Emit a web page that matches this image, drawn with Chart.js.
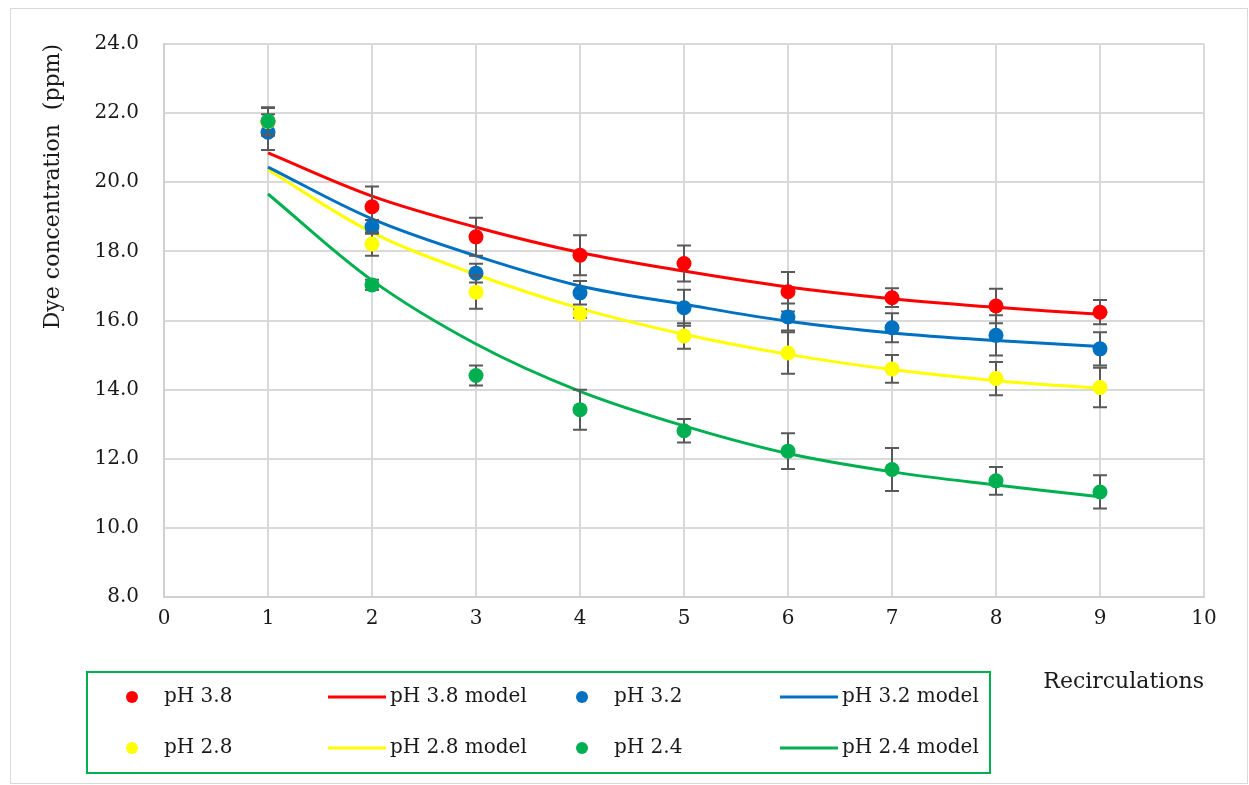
<!DOCTYPE html>
<html>
<head>
<meta charset="utf-8">
<script src="https://cdn.jsdelivr.net/npm/chart.js@4"></script>
<style>
  body { margin: 0; background: #fff; }
  canvas { display: block; }
</style>
</head>
<body>
<canvas id="myChart" width="1249" height="785"></canvas>
<script>
// recirculation number for every measurement
const recirculations = [1, 2, 3, 4, 5, 6, 7, 8, 9];

const ph38 = [21.75, 19.29, 18.42, 17.89, 17.65, 16.83, 16.66, 16.42, 16.24];
const ph38Err = [0.40, 0.59, 0.55, 0.58, 0.52, 0.57, 0.27, 0.50, 0.35];
const ph38Model = [20.85, 19.60, 18.70, 17.97, 17.43, 16.97, 16.63, 16.38, 16.18];

const ph32 = [21.45, 18.71, 17.37, 16.80, 16.37, 16.10, 15.79, 15.57, 15.18];
const ph32Err = [0.52, 0.20, 0.27, 0.34, 0.52, 0.39, 0.42, 0.58, 0.48];
const ph32Model = [20.44, 18.94, 17.87, 17.00, 16.47, 15.98, 15.64, 15.42, 15.25];

const ph28 = [21.75, 18.21, 16.82, 16.20, 15.55, 15.06, 14.60, 14.32, 14.06];
const ph28Err = [0.40, 0.34, 0.48, 0.12, 0.37, 0.60, 0.40, 0.48, 0.57];
const ph28Model = [20.36, 18.55, 17.33, 16.35, 15.60, 15.02, 14.58, 14.26, 14.04];

const ph24 = [21.77, 17.03, 14.41, 13.42, 12.81, 12.22, 11.69, 11.36, 11.04];
const ph24Err = [0.40, 0.15, 0.29, 0.58, 0.34, 0.52, 0.62, 0.40, 0.48];
const ph24Model = [19.66, 17.16, 15.32, 13.95, 12.95, 12.15, 11.62, 11.24, 10.90];

const RED = '#ff0000', BLUE = '#0070c0', YELLOW = '#ffff00', GREEN = '#00b050';
const FONT = "'DejaVu Serif', serif";
const TEXT = '#1a1a1a';

const pts = vals => vals.map((v, i) => ({ x: recirculations[i], y: v }));

function dots(label, vals, errs, color, order) {
    return {
        label: label, data: pts(vals), errors: errs, order: order,
        showLine: false, pointRadius: 7.5, pointHoverRadius: 7.5,
        backgroundColor: color, borderColor: color, pointBorderWidth: 0
    };
}
function model(label, vals, color, order) {
    return {
        label: label, data: pts(vals), order: order,
        showLine: true, pointRadius: 0, borderWidth: 3, tension: 0.35,
        borderColor: color, backgroundColor: color
    };
}

// draws the error bars under each set of dots
const errorBars = {
    id: 'errorBars',
    beforeDatasetDraw(chart, args) {
        const ds = chart.data.datasets[args.index];
        if (!ds.errors) return;
        const ctx = chart.ctx, xs = chart.scales.x, ys = chart.scales.y;
        ctx.save();
        ctx.strokeStyle = '#595959';
        ctx.lineWidth = 2;
        ds.data.forEach((p, i) => {
            const e = ds.errors[i];
            const px = xs.getPixelForValue(p.x);
            const top = ys.getPixelForValue(p.y + e);
            const bot = ys.getPixelForValue(p.y - e);
            ctx.beginPath();
            ctx.moveTo(px, top); ctx.lineTo(px, bot);
            ctx.moveTo(px - 7, top); ctx.lineTo(px + 7, top);
            ctx.moveTo(px - 7, bot); ctx.lineTo(px + 7, bot);
            ctx.stroke();
        });
        ctx.restore();
    }
};

// outer frame + boxed legend in 4 columns
const frameLegend = {
    id: 'frameLegend',
    afterDraw(chart) {
        const ctx = chart.ctx;
        ctx.save();
        ctx.strokeStyle = '#d9d9d9';
        ctx.lineWidth = 1;
        ctx.strokeRect(10.5, 8.5, 1237, 775);

        ctx.strokeStyle = GREEN;
        ctx.lineWidth = 2;
        ctx.strokeRect(87, 672, 903, 101);

        const cols = [132, 328, 582, 780];
        const rows = [697, 748];
        ctx.font = '20px ' + FONT;
        ctx.textBaseline = 'middle';
        ctx.fillStyle = TEXT;
        chart.data.datasets.forEach((ds, i) => {
            const cx = cols[i % 4], cy = rows[Math.floor(i / 4)];
            let tx;
            if (ds.showLine) {
                ctx.strokeStyle = ds.borderColor;
                ctx.lineWidth = 3;
                ctx.beginPath();
                ctx.moveTo(cx, cy); ctx.lineTo(cx + 58, cy);
                ctx.stroke();
                tx = cx + 62;
            } else {
                ctx.fillStyle = ds.backgroundColor;
                ctx.beginPath();
                ctx.arc(cx, cy, 6, 0, Math.PI * 2);
                ctx.fill();
                tx = cx + 32;
            }
            ctx.fillStyle = TEXT;
            ctx.textAlign = 'left';
            ctx.fillText(ds.label, tx, cy);
        });
        ctx.restore();
    }
};

const ctx = document.getElementById('myChart');

new Chart(ctx, {
    type: 'scatter',
    data: {
        datasets: [
            dots('pH 3.8', ph38, ph38Err, RED, 4),
            model('pH 3.8 model', ph38Model, RED, 10),
            dots('pH 3.2', ph32, ph32Err, BLUE, 3),
            model('pH 3.2 model', ph32Model, BLUE, 11),
            dots('pH 2.8', ph28, ph28Err, YELLOW, 2),
            model('pH 2.8 model', ph28Model, YELLOW, 12),
            dots('pH 2.4', ph24, ph24Err, GREEN, 1),
            model('pH 2.4 model', ph24Model, GREEN, 13)
        ]
    },
    options: {
        responsive: false,
        animation: false,
        layout: { padding: { top: 44, left: 20, right: 45, bottom: 0 } },
        plugins: {
            legend: { display: false },
            tooltip: { enabled: false }
        },
        scales: {
            x: {
                type: 'linear',
                min: 0,
                max: 10,
                ticks: { stepSize: 1, padding: 10, color: TEXT, font: { family: FONT, size: 20 } },
                grid: { color: '#d9d9d9', lineWidth: 2, drawTicks: false },
                border: { color: '#d0d0d0', width: 2 },
                title: {
                    display: true, text: 'Recirculations', align: 'end', color: TEXT,
                    font: { family: FONT, size: 22 }, padding: { top: 0, bottom: 90 }
                },
                afterFit: s => { s.height = 188; }
            },
            y: {
                min: 8,
                max: 24,
                ticks: {
                    stepSize: 2, padding: 25, color: TEXT, font: { family: FONT, size: 20 },
                    callback: v => v.toFixed(1)
                },
                grid: { color: '#d9d9d9', lineWidth: 2, drawTicks: false },
                border: { color: '#d0d0d0', width: 2 },
                title: {
                    display: true, text: 'Dye concentration  (ppm)', align: 'end', color: TEXT,
                    font: { family: FONT, size: 22 }, padding: { top: 20, bottom: 0 }
                },
                afterFit: s => { s.width = 144; }
            }
        }
    },
    plugins: [errorBars, frameLegend]
});
</script>
</body>
</html>
